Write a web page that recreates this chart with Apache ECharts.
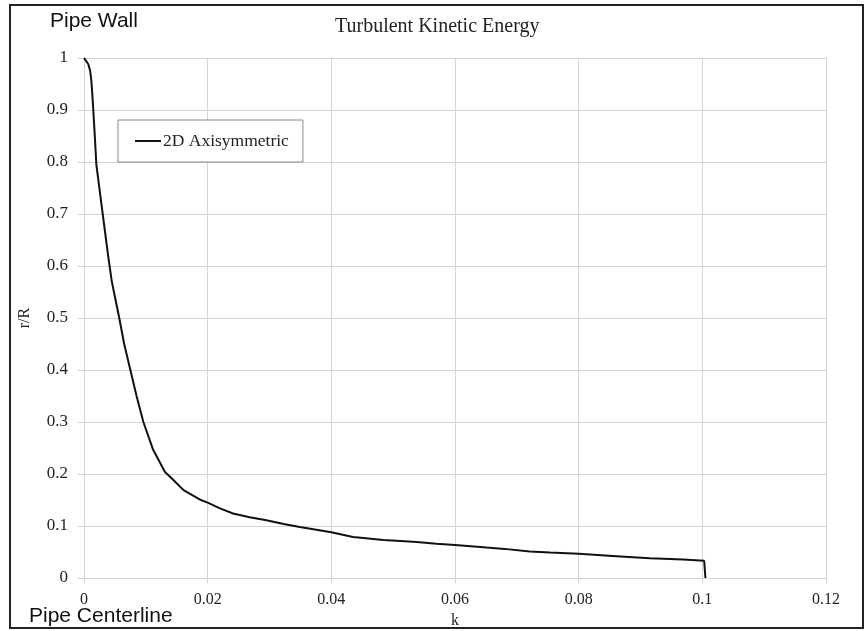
<!DOCTYPE html>
<html>
<head>
<meta charset="utf-8">
<script src="https://cdn.jsdelivr.net/npm/echarts@6/dist/echarts.min.js"></script>
<style>
  html, body { margin: 0; padding: 0; background: #fff; }
  #chart { width: 865px; height: 631px; }
</style>
</head>
<body>
<div id="chart"></div>
<script>
// k (x) and r/R (y)
const kValues = [
  0.0000, 0.0003, 0.0007, 0.0010, 0.0012, 0.0014, 0.0017, 0.0020, 0.0027, 0.0033,
  0.0039, 0.0045, 0.0051, 0.0057, 0.0065, 0.0075, 0.0085, 0.0096, 0.0112, 0.0131,
  0.0145, 0.0161, 0.0187, 0.0200, 0.0220, 0.0241, 0.0268, 0.0295, 0.0323, 0.0349,
  0.0400, 0.0435, 0.0460, 0.0484, 0.0512, 0.0538, 0.0570, 0.0600, 0.0651, 0.0680,
  0.0721, 0.0754, 0.0800, 0.0861, 0.0915, 0.0969, 0.1003, 0.1005
];
const rValues = [
  1.000, 0.995, 0.988, 0.975, 0.955, 0.920, 0.860, 0.795, 0.730, 0.675,
  0.620, 0.570, 0.535, 0.500, 0.450, 0.400, 0.350, 0.300, 0.246, 0.204,
  0.188, 0.169, 0.151, 0.145, 0.134, 0.124, 0.117, 0.111, 0.104, 0.098,
  0.088, 0.079, 0.076, 0.073, 0.071, 0.069, 0.066, 0.0635, 0.0585, 0.056,
  0.051, 0.049, 0.0465, 0.042, 0.0378, 0.0355, 0.033, 0.000
];
const seriesName = '2D Axisymmetric';

const serif = '"Liberation Serif", "Times New Roman", serif';
const sans = '"Liberation Sans", Arial, sans-serif';
const gridColor = '#d4d4d4';

const chart = echarts.init(document.getElementById('chart'), null, { renderer: 'canvas' });

chart.setOption({
  backgroundColor: '#fff',
  animation: false,
  title: {
    text: 'Turbulent Kinetic Energy',
    left: 335,
    top: 17,
    padding: 0,
    textStyle: { fontFamily: serif, fontSize: 20, fontWeight: 'normal', color: '#222' }
  },
  legend: {
    left: 118,
    top: 120,
    orient: 'vertical',
    padding: [12, 14, 12, 17],
    borderColor: '#8a8a8a',
    borderWidth: 1,
    backgroundColor: '#fff',
    itemWidth: 26,
    itemHeight: 2,
    icon: 'rect',
    textStyle: { fontFamily: serif, fontSize: 17.5, color: '#222', padding: [0, 0, 0, -3] },
    data: [seriesName]
  },
  grid: { left: 84, right: 39, top: 58, bottom: 53, containLabel: false, outerBoundsMode: 'none' },
  xAxis: {
    type: 'value',
    min: 0,
    max: 0.12,
    interval: 0.02,
    name: 'k',
    nameLocation: 'middle',
    nameGap: 34,
    nameTextStyle: { fontFamily: serif, fontSize: 16, color: '#222' },
    axisLine: { show: true, lineStyle: { color: gridColor, width: 1 } },
    axisTick: { show: true, length: 5, lineStyle: { color: gridColor } },
    axisLabel: { margin: 14, fontFamily: serif, fontSize: 16, color: '#222' },
    splitLine: { show: true, lineStyle: { color: gridColor, width: 1 } }
  },
  yAxis: {
    type: 'value',
    min: 0,
    max: 1,
    interval: 0.1,
    name: 'r/R',
    nameLocation: 'middle',
    nameGap: 51,
    nameRotate: 90,
    nameTextStyle: { fontFamily: serif, fontSize: 16, color: '#222' },
    axisLine: { show: true, lineStyle: { color: gridColor, width: 1 } },
    axisTick: { show: true, length: 6, lineStyle: { color: gridColor } },
    axisLabel: { margin: 16, fontFamily: serif, fontSize: 17, color: '#222' },
    splitLine: { show: true, lineStyle: { color: gridColor, width: 1 } }
  },
  series: [
    {
      name: seriesName,
      type: 'line',
      data: kValues.map((k, i) => [k, rValues[i]]),
      showSymbol: false,
      smooth: false,
      color: '#111',
      lineStyle: { color: '#111', width: 2 }
    }
  ],
  graphic: [
    {
      type: 'rect',
      shape: { x: 10, y: 5, width: 853, height: 623 },
      style: { fill: 'none', stroke: '#222', lineWidth: 2 },
      silent: true,
      z: 100
    },
    {
      type: 'text',
      left: 50,
      top: 11,
      style: { text: 'Pipe Wall', fontFamily: sans, fontSize: 21, fill: '#111' }
    },
    {
      type: 'text',
      left: 29,
      top: 606,
      style: { text: 'Pipe Centerline', fontFamily: sans, fontSize: 21, fill: '#111' }
    }
  ]
});
</script>
</body>
</html>
